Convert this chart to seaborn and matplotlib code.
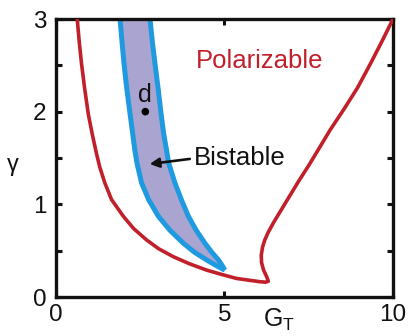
import matplotlib
matplotlib.use("Agg")
import matplotlib.pyplot as plt
import seaborn as sns
import pandas as pd

# ---- data ----
red_G = [0.63, 0.69, 0.76, 0.85, 0.96, 1.08, 1.20, 1.30, 1.45, 1.65, 2.00, 2.30,
         2.69, 3.05, 3.48, 3.95, 4.47, 4.95, 5.36, 5.75, 6.05, 6.22, 6.30,
         6.25, 6.16, 6.10, 6.09, 6.13, 6.20, 6.30, 6.45, 6.65, 6.90, 7.20, 7.50,
         7.80, 8.13, 8.55, 8.95, 9.32, 9.66, 10.0]
red_gamma = [3.0, 2.75, 2.51, 2.25, 1.97, 1.75, 1.55, 1.40, 1.23, 1.05, 0.87, 0.74,
             0.615, 0.52, 0.435, 0.36, 0.29, 0.24, 0.20, 0.18, 0.165, 0.16, 0.17,
             0.22, 0.29, 0.37, 0.45, 0.54, 0.62, 0.70, 0.80, 0.92, 1.07, 1.25, 1.42,
             1.60, 1.80, 2.03, 2.26, 2.51, 2.75, 3.0]

blue_gamma = [3.0, 2.75, 2.51, 2.25, 1.97, 1.75, 1.586, 1.45, 1.23, 1.05, 0.87,
              0.72, 0.58, 0.48, 0.40, 0.34, 0.29]
blue_left_G = [1.90, 1.96, 2.02, 2.10, 2.20, 2.28, 2.34, 2.40, 2.54, 2.75, 3.04,
               3.38, 3.78, 4.12, 4.47, 4.75, 5.01]
blue_right_G = [2.79, 2.86, 2.94, 3.03, 3.12, 3.20, 3.28, 3.34, 3.53, 3.72, 3.93,
                4.16, 4.42, 4.63, 4.82, 4.93, 5.01]

point_G = [2.65]
point_gamma = [2.0]

x_ticks = [0, 5, 10]
y_ticks = [0, 1, 2, 3]
y_minor = [0.5, 1.5, 2.5]

RED = "#c1202b"
BLUE = "#1f9ae0"
FILL = "#aaa5d0"

sns.set_style("ticks")
plt.rcParams["font.family"] = ["Liberation Sans", "DejaVu Sans"]

fig = plt.figure(figsize=(4.10, 3.36), dpi=100)
ax = fig.add_axes([56 / 410, 39 / 336, 337 / 410, 278 / 336])

red_df = pd.DataFrame({"G": red_G, "gamma": red_gamma})
bl_df = pd.DataFrame({"G": blue_left_G, "gamma": blue_gamma})
br_df = pd.DataFrame({"G": blue_right_G, "gamma": blue_gamma})

ax.fill_betweenx(blue_gamma, blue_left_G, blue_right_G, color=FILL, lw=0, zorder=1)
sns.lineplot(data=bl_df, x="G", y="gamma", sort=False, estimator=None, ax=ax,
             color=BLUE, lw=3.6, solid_capstyle="butt", solid_joinstyle="round", zorder=2)
sns.lineplot(data=br_df, x="G", y="gamma", sort=False, estimator=None, ax=ax,
             color=BLUE, lw=3.6, solid_capstyle="butt", solid_joinstyle="round", zorder=2)
sns.lineplot(data=red_df, x="G", y="gamma", sort=False, estimator=None, ax=ax,
             color=RED, lw=2.6, solid_joinstyle="round", zorder=3)
sns.scatterplot(x=point_G, y=point_gamma, ax=ax, color="black", s=30,
                edgecolor="none", zorder=4)

ax.text(2.63, 2.05, "d", fontsize=18, color="#111111", ha="center", va="bottom")
ax.text(4.15, 2.55, "Polarizable", fontsize=18.5, color=RED, ha="left", va="center")
ax.text(4.10, 1.50, "Bistable", fontsize=18.5, color="#111111", ha="left", va="center")
ax.annotate("", xy=(2.78, 1.435), xytext=(3.97, 1.49),
            arrowprops=dict(arrowstyle="-|>,head_length=0.55,head_width=0.28",
                            color="#111111", lw=1.9, shrinkA=0, shrinkB=0))

ax.set_xlim(0, 10)
ax.set_ylim(0, 3)
ax.set_xticks(x_ticks)
ax.set_xticklabels([str(v) for v in x_ticks])
ax.set_yticks(y_ticks)
ax.set_yticklabels([str(v) for v in y_ticks])
ax.set_yticks(y_minor, minor=True)
ax.tick_params(axis="both", which="both", direction="in", length=4, width=2.2,
               labelsize=17.5, color="#111111", labelcolor="#111111",
               right=True, top=True)
ax.tick_params(axis="x", pad=5)
ax.tick_params(axis="y", pad=7)
for s in ax.spines.values():
    s.set_linewidth(2.4)
    s.set_color("#111111")
ax.set_xlabel("")
ax.set_ylabel("")
fig.text(13 / 410, 1 - 165 / 336, "γ", fontsize=17, ha="center", va="center",
         color="#111111")
ax.text(6.62, -0.25, "G$_\\mathregular{T}$", fontsize=18, ha="center", va="center",
        color="#111111")

fig.savefig("out.png", dpi=100)
